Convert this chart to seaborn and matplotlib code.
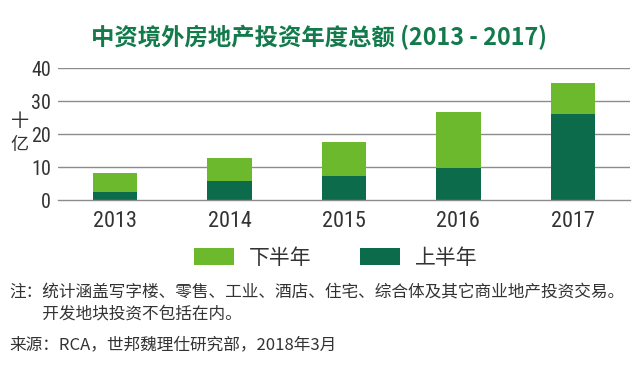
import matplotlib
matplotlib.use("Agg")
import matplotlib.pyplot as plt
import seaborn as sns
import pandas as pd
from matplotlib.patches import Patch
from matplotlib import font_manager

years = ["2013", "2014", "2015", "2016", "2017"]
first_half = [2.4, 5.7, 7.3, 9.7, 26.1]
second_half = [5.9, 7.0, 10.3, 17.0, 9.3]
series_labels = ["下半年", "上半年"]
title = "中资境外房地产投资年度总额 (2013 - 2017)"
note_lines = ["注：统计涵盖写字楼、零售、工业、酒店、住宅、综合体及其它商业地产投资交易。",
              "　　开发地块投资不包括在内。"]
source = "来源：RCA，世邦魏理仕研究部，2018年3月"

sns.set_theme(style="white")
plt.rcParams['font.family'] = ['Noto Sans CJK SC', 'DejaVu Sans']

LIGHT = "#6cb92e"
DARK = "#0b6b4b"
TITLE_C = "#137a4c"
GRID = "#8c8c8c"
TXT = "#333333"

available = {f.name for f in font_manager.fontManager.ttflist}
cond = [n for n in ["Roboto Condensed", "Liberation Sans Narrow", "DejaVu Sans Condensed"]
        if n in available]
if cond:
    NUMFONT = [cond[0]]
    xsize, ysize = 16, 14.5
else:
    NUMFONT = ["Roboto"]
    xsize, ysize = 13.5, 12.5

df = pd.DataFrame({"year": years, "first": first_half,
                   "total": [a + b for a, b in zip(first_half, second_half)]})

fig = plt.figure(figsize=(6.4, 3.68), dpi=100)
ax = fig.add_axes([0.0906, 0.4565, 0.8938, 0.358])

sns.barplot(data=df, x="year", y="total", color=LIGHT, saturation=1, width=0.39,
            linewidth=0, ax=ax)
sns.barplot(data=df, x="year", y="first", color=DARK, saturation=1, width=0.39,
            linewidth=0, ax=ax)

ax.set_xlim(-0.5, 4.5)
ax.set_ylim(0, 40)
ax.set_yticks([0, 10, 20, 30, 40])
for v in [10, 20, 30, 40]:
    ax.axhline(v, color=GRID, lw=1.0, zorder=0)
ax.set_axisbelow(True)
for s in ["top", "right", "left"]:
    ax.spines[s].set_visible(False)
ax.spines["bottom"].set_color(GRID)
ax.spines["bottom"].set_linewidth(1.0)
ax.set_xlabel("")
ax.set_ylabel("")

ax.set_xticks(range(5))
ax.set_xticklabels(years)
ax.tick_params(axis="x", length=0, pad=8, labelsize=xsize, labelcolor=TXT)
ax.set_xticks([i - 0.5 for i in range(6)], minor=True)
ax.tick_params(axis="x", which="minor", length=4, color=GRID, width=1.0, direction="out")
ax.tick_params(axis="y", length=0, pad=5, labelsize=ysize, labelcolor=TXT)
for lab in ax.get_xticklabels() + ax.get_yticklabels():
    lab.set_family(NUMFONT)

fig.text(0.031, 1 - 122 / 368, "十", fontsize=13, color=TXT, ha="center", va="center")
fig.text(0.031, 1 - 145 / 368, "亿", fontsize=13, color=TXT, ha="center", va="center")

fig.text(0.498, 1 - 37 / 368, title, fontsize=16.8, fontweight="bold", color=TITLE_C,
         ha="center", va="center")

handles = [Patch(facecolor=LIGHT, edgecolor="none"), Patch(facecolor=DARK, edgecolor="none")]
fig.legend(handles, series_labels, loc="center", bbox_to_anchor=(336 / 640, 1 - 258 / 368),
           ncol=2, frameon=False, fontsize=15, handlelength=1.92, handleheight=0.87,
           handletextpad=0.72, columnspacing=2.35, labelcolor=TXT, borderpad=0,
           borderaxespad=0)

fig.text(0.014, 1 - 293 / 368, note_lines[0], fontsize=12, color=TXT, va="center")
fig.text(0.014, 1 - 314 / 368, note_lines[1], fontsize=12, color=TXT, va="center")
fig.text(0.014, 1 - 345 / 368, source, fontsize=12, color=TXT, va="center")

fig.savefig("out.png", dpi=100, facecolor="white")
